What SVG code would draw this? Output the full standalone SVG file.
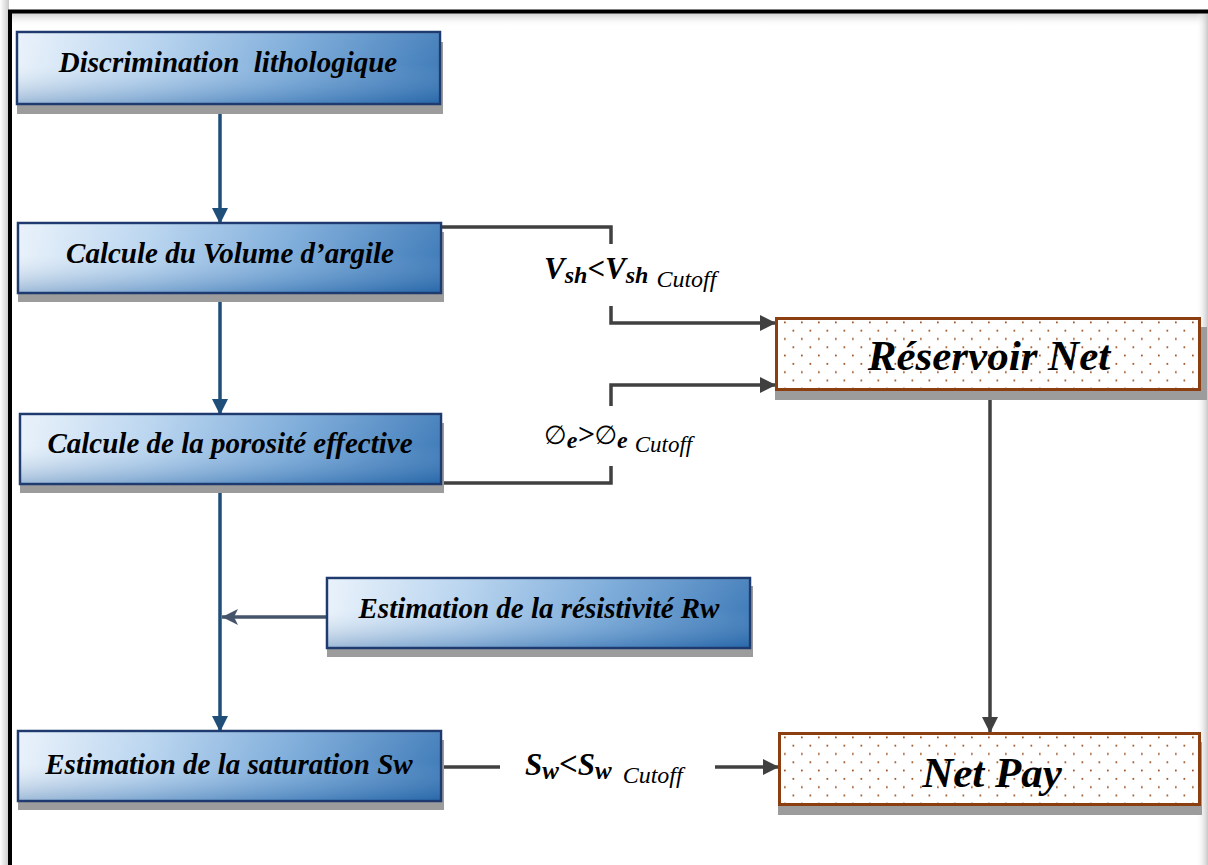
<svg xmlns="http://www.w3.org/2000/svg" width="1208" height="865" viewBox="0 0 1208 865">
<defs>
<linearGradient id="blueH" x1="0" y1="0" x2="1" y2="0">
<stop offset="0" stop-color="#e6f0fa"/>
<stop offset="0.3" stop-color="#b3d1ee"/>
<stop offset="0.65" stop-color="#6fa3d6"/>
<stop offset="1" stop-color="#2e70b3"/>
</linearGradient>
<linearGradient id="blueV" x1="0" y1="0" x2="0" y2="1">
<stop offset="0" stop-color="#ffffff" stop-opacity="0.15"/>
<stop offset="0.45" stop-color="#ffffff" stop-opacity="0.1"/>
<stop offset="1" stop-color="#1f5a99" stop-opacity="0.35"/>
</linearGradient>
<linearGradient id="leftShade" x1="0" y1="0" x2="1" y2="0">
<stop offset="0" stop-color="#ffffff"/>
<stop offset="1" stop-color="#c8c8c8"/>
</linearGradient>
<linearGradient id="rightShade" x1="0" y1="0" x2="1" y2="0">
<stop offset="0" stop-color="#ffffff" stop-opacity="0"/>
<stop offset="1" stop-color="#c8c8c8"/>
</linearGradient>
<linearGradient id="topShade" x1="0" y1="0" x2="0" y2="1">
<stop offset="0" stop-color="#d0d0d0"/>
<stop offset="1" stop-color="#ffffff" stop-opacity="0"/>
</linearGradient>
<pattern id="dots" x="776" y="318" width="17" height="16.6" patternUnits="userSpaceOnUse">
<rect width="17" height="16.6" fill="#ffffff"/>
<rect x="8" y="3.5" width="1.7" height="1.7" fill="#9a4a16"/>
<rect x="16.5" y="11.8" width="1.7" height="1.7" fill="#9a4a16"/>
<rect x="-0.5" y="11.8" width="1.7" height="1.7" fill="#9a4a16"/>
</pattern>
<marker id="arrBlue" markerUnits="userSpaceOnUse" markerWidth="18" markerHeight="16" refX="16" refY="8" orient="auto">
<path d="M0,0 L16,8 L0,16 Z" fill="#1f4e79"/>
</marker>
<marker id="arrGB" markerUnits="userSpaceOnUse" markerWidth="18" markerHeight="16" refX="16" refY="8" orient="auto">
<path d="M0,0 L16,8 L0,16 L4,8 Z" fill="#44546a"/>
</marker>
<marker id="arrDark" markerUnits="userSpaceOnUse" markerWidth="18" markerHeight="16" refX="16" refY="8" orient="auto">
<path d="M0,0 L16,8 L0,16 Z" fill="#404040"/>
</marker>
</defs>
<style>
.shadow { fill: #9c9c9c; }
.bbox { stroke: #1f3a6e; stroke-width: 2.5; }
.bover { fill: url(#blueV); stroke: none; }
.rbox { fill: url(#dots); stroke: #8b3e10; stroke-width: 3; }
.nt { font-family: "Liberation Serif", "Times New Roman", serif; font-weight: bold; font-style: italic; font-size: 29px; fill: #000; text-anchor: middle; }
.big { font-size: 43px; }
.lbl { font-family: "Liberation Serif", "DejaVu Serif", serif; font-weight: bold; font-style: italic; fill: #000; }
.cut { font-family: "Liberation Serif", serif; font-weight: normal; font-style: italic; }
.phi { font-family: "DejaVu Sans", sans-serif; font-weight: normal; font-style: normal; }
.cb { fill: none; stroke: #1f4e79; stroke-width: 3.5; }
.cg { fill: none; stroke: #44546a; stroke-width: 3.5; }
.cd { fill: none; stroke: #404040; stroke-width: 3.5; }
</style>
<rect width="1208" height="865" fill="#ffffff"/>
<g id="frame">
<rect x="0" y="0" width="9" height="865" fill="url(#leftShade)"/>
<rect x="12" y="13" width="1196" height="14" fill="url(#topShade)"/>
<rect x="1196" y="13" width="12" height="852" fill="url(#rightShade)"/>
<path d="M10,865 L10,11.5 L1208,11.5" fill="none" stroke="#000" stroke-width="4"/>
</g>
<g id="connectors">
<line class="cb" x1="220" y1="106" x2="220" y2="224" marker-end="url(#arrBlue)"/>
<line class="cb" x1="220" y1="295" x2="220" y2="415" marker-end="url(#arrBlue)"/>
<line class="cb" x1="220" y1="486" x2="220" y2="732" marker-end="url(#arrBlue)"/>
<line class="cg" x1="327" y1="617" x2="222" y2="617" marker-end="url(#arrGB)"/>
<path class="cd" d="M441,227 L611,227 L611,244"/>
<path class="cd" d="M611,306 L611,323 L776,323" marker-end="url(#arrDark)"/>
<path class="cd" d="M441,483 L611,483 L611,466"/>
<path class="cd" d="M611,406 L611,385 L776,385" marker-end="url(#arrDark)"/>
<line class="cd" x1="441" y1="767" x2="500" y2="767"/>
<line class="cd" x1="715" y1="767" x2="779" y2="767" marker-end="url(#arrDark)"/>
<line class="cd" x1="990" y1="398" x2="990" y2="733" marker-end="url(#arrDark)"/>
<text class="lbl" x="544" y="279"><tspan font-size="31">V</tspan><tspan font-size="24" dy="4">sh</tspan><tspan font-size="31" dy="-4">&lt;</tspan><tspan font-size="31">V</tspan><tspan font-size="24" dy="4">sh</tspan><tspan class="cut" font-size="24" dx="8" dy="4">Cutoff</tspan></text>
<text class="lbl" x="544" y="444"><tspan class="phi" font-size="26">∅</tspan><tspan font-size="24" dy="4">e</tspan><tspan font-size="30" dy="-4">&gt;</tspan><tspan class="phi" font-size="26">∅</tspan><tspan font-size="24" dy="4">e</tspan><tspan class="cut" font-size="23" dx="7" dy="4">Cutoff</tspan></text>
<text class="lbl" x="525" y="775"><tspan font-size="31">S</tspan><tspan font-size="25" dy="4">w</tspan><tspan font-size="33" dy="-4">&lt;</tspan><tspan font-size="31">S</tspan><tspan font-size="25" dy="4">w</tspan><tspan class="cut" font-size="24" dx="11" dy="4">Cutoff</tspan></text>
</g>
<g id="n_discrimination">
<rect class="shadow" x="17" y="42" width="426" height="72"/>
<rect class="bbox" x="17" y="32" width="423" height="72" fill="url(#blueH)"/>
<rect class="bover" x="18" y="33" width="421" height="70"/>
<text class="nt" x="228" y="72" xml:space="preserve">Discrimination  lithologique</text>
</g>
<g id="n_volume">
<rect class="shadow" x="18" y="232" width="426" height="70"/>
<rect class="bbox" x="18" y="223" width="423" height="70" fill="url(#blueH)"/>
<rect class="bover" x="19" y="224" width="421" height="68"/>
<text class="nt" x="230" y="263">Calcule du Volume d’argile</text>
</g>
<g id="n_porosite">
<rect class="shadow" x="20" y="423" width="424" height="70"/>
<rect class="bbox" x="20" y="414" width="421" height="70" fill="url(#blueH)"/>
<rect class="bover" x="21" y="415" width="419" height="68"/>
<text class="nt" x="230" y="453">Calcule de la porosité effective</text>
</g>
<g id="n_rw">
<rect class="shadow" x="327" y="586" width="426" height="71"/>
<rect class="bbox" x="327" y="578" width="423" height="70" fill="url(#blueH)"/>
<rect class="bover" x="328" y="579" width="421" height="68"/>
<text class="nt" x="539" y="618">Estimation de la résistivité Rw</text>
</g>
<g id="n_sw">
<rect class="shadow" x="18" y="740" width="426" height="70"/>
<rect class="bbox" x="18" y="731" width="423" height="70" fill="url(#blueH)"/>
<rect class="bover" x="19" y="732" width="421" height="68"/>
<text class="nt" x="229" y="774">Estimation de la saturation Sw</text>
</g>
<g id="n_reservoir">
<rect class="shadow" x="775" y="327" width="432" height="73"/>
<rect class="rbox" x="776.5" y="318.5" width="423" height="71"/>
<text class="nt big" x="989" y="370">Réservoir Net</text>
</g>
<g id="n_netpay">
<rect class="shadow" x="778" y="742" width="424" height="73"/>
<rect class="rbox" x="779.5" y="733.5" width="420" height="71"/>
<text class="nt big" x="992" y="787">Net Pay</text>
</g>
</svg>
